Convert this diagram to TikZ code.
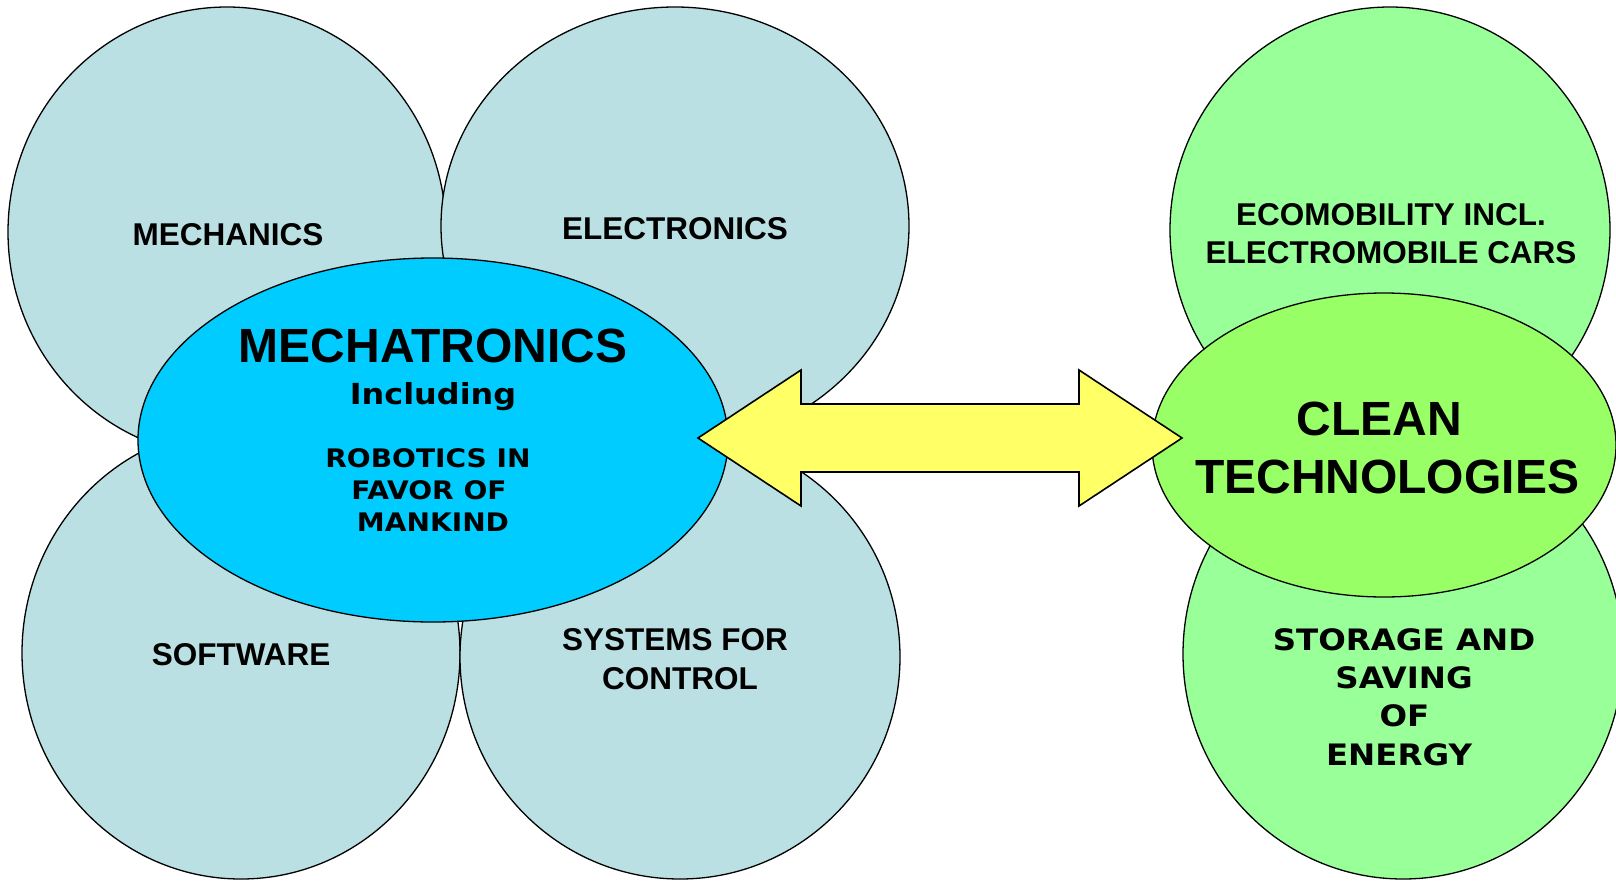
\documentclass[tikz,border=0pt]{standalone}
\usepackage{fontspec}
\usetikzlibrary{shapes.geometric}
\newfontfamily\arialfont{Liberation Sans}
\newfontfamily\verdfont{DejaVu Sans}[FakeStretch=1.1]
\definecolor{fieldblue}{RGB}{186,224,227}
\definecolor{coreblue}{RGB}{0,204,255}
\definecolor{ecogreen}{RGB}{153,255,153}
\definecolor{cleangreen}{RGB}{153,255,102}
\definecolor{arrowyellow}{RGB}{255,255,102}
\tikzset{
  blob/.style={ellipse, draw=black, line width=1.3pt, inner sep=0pt},
  field/.style={blob, fill=fieldblue},
  hd/.style={anchor=base, inner sep=0pt, font=\arialfont\bfseries\fontsize{31.5}{36}\selectfont},
  big/.style={anchor=base, inner sep=0pt, font=\arialfont\bfseries\fontsize{48}{54}\selectfont},
  vb/.style={anchor=base, inner sep=0pt, font=\verdfont\bfseries\fontsize{#1}{#1}\selectfont},
}
\begin{document}
\begin{tikzpicture}[x=1pt,y=-1pt]
\useasboundingbox (0,0) rectangle (1616,881);

% four disciplines around mechatronics
\node[field, minimum width=438pt, minimum height=450pt] (mech) at (227,232) {};
\node[field, minimum width=468pt, minimum height=438pt] (elec) at (675,226) {};
\node[field, minimum width=438pt, minimum height=452pt] (soft) at (241,653) {};
\node[field, minimum width=440pt, minimum height=444pt] (ctrl) at (680,657) {};
\node[blob, fill=coreblue, minimum width=590pt, minimum height=364pt] (core) at (433,440) {};

% clean technologies group
\node[blob, fill=ecogreen, minimum width=440pt, minimum height=446pt] (eco) at (1390,230) {};
\node[blob, fill=ecogreen, minimum width=440pt, minimum height=450pt] (stor) at (1403,654) {};
\node[blob, fill=cleangreen, minimum width=464pt, minimum height=304pt] (clean) at (1384,445) {};

% labels
\node[hd] (tmech) at (228,245) {MECHANICS};
\node[hd] (telec) at (675,239) {ELECTRONICS};
\node[hd] (tsoft) at (241,665) {SOFTWARE};
\node[hd] (tctrl1) at (675,650) {SYSTEMS FOR};
\node[hd] (tctrl2) at (680,689) {CONTROL};

\node[big] (tcore) at (433,362.7) {MECHATRONICS};
\node[vb=29] (tincl) at (433,404) {Including};
\node[vb=25.5] (trob1) at (428,467) {ROBOTICS IN};
\node[vb=25.5] (trob2) at (429,499) {FAVOR OF};
\node[vb=25.5] (trob3) at (433,531) {MANKIND};

\node[hd] (teco1) at (1391,225.7) {ECOMOBILITY INCL.};
\node[hd] (teco2) at (1391,263.3) {ELECTROMOBILE CARS};
\node[big] (tclean1) at (1379,435) {CLEAN};
\node[big] (tclean2) at (1387,493.3) {TECHNOLOGIES};
\node[vb=29.5] (tstor1) at (1404,650) {STORAGE AND};
\node[vb=29.5] (tstor2) at (1404,688.3) {SAVING};
\node[vb=29.5] (tstor3) at (1404.5,726.7) {OF};
\node[vb=29.5] (tstor4) at (1399,765) {ENERGY};

% double-headed block arrow between the two groups
\coordinate (lt) at (698,438);
\coordinate (rt) at (1182,438);
\draw[line width=1.6pt, line join=miter, fill=arrowyellow]
  (lt) -- ([shift={(103,-68)}]lt) -- ([shift={(103,-34)}]lt)
  -- ([shift={(-103,-34)}]rt) -- ([shift={(-103,-68)}]rt) -- (rt)
  -- ([shift={(-103,68)}]rt) -- ([shift={(-103,34)}]rt)
  -- ([shift={(103,34)}]lt) -- ([shift={(103,68)}]lt) -- cycle;
\end{tikzpicture}
\end{document}
